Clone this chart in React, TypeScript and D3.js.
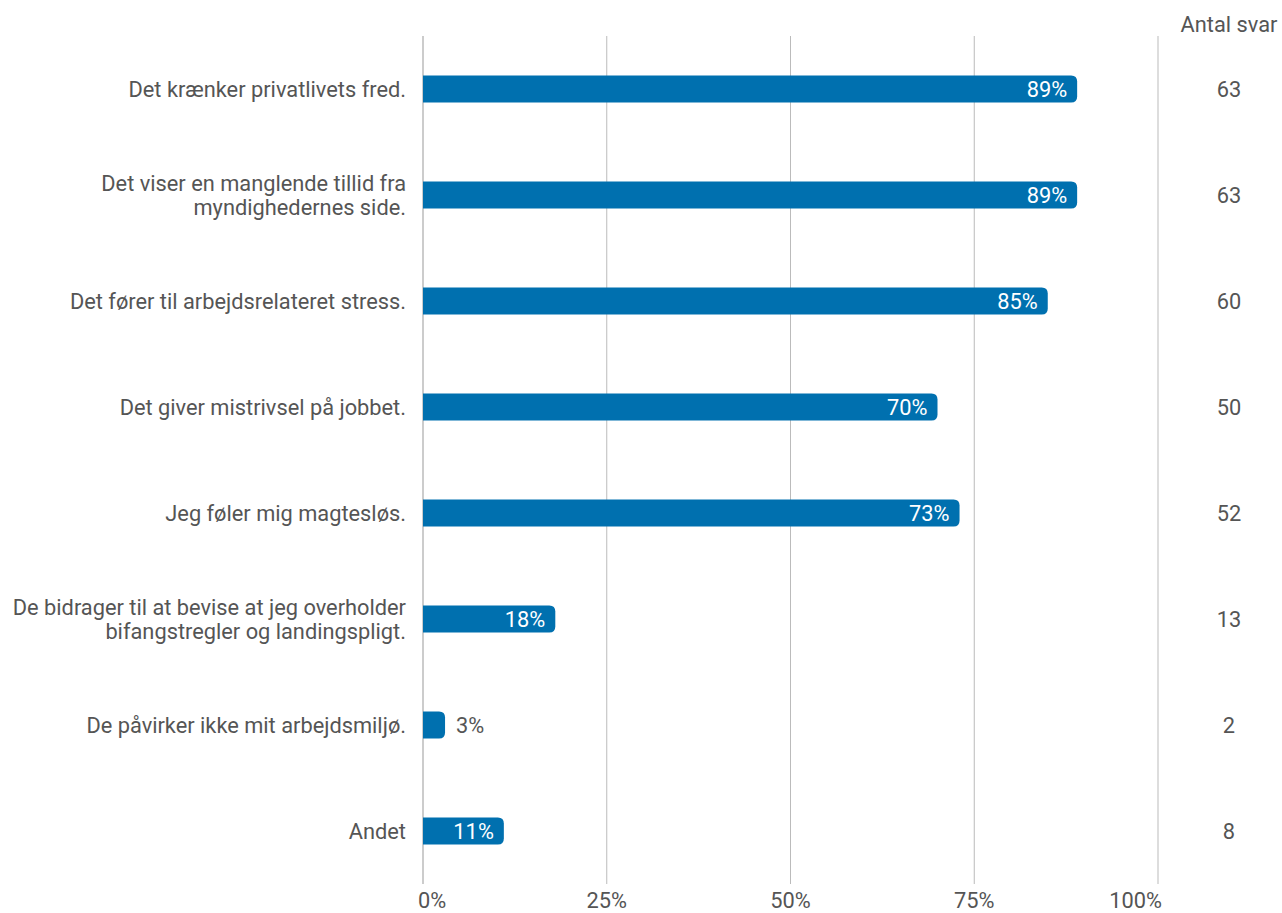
import React from "react";
import * as d3 from "d3";

const categories: string[][] = [
  ["Det krænker privatlivets fred."],
  ["Det viser en manglende tillid fra", "myndighedernes side."],
  ["Det fører til arbejdsrelateret stress."],
  ["Det giver mistrivsel på jobbet."],
  ["Jeg føler mig magtesløs."],
  ["De bidrager til at bevise at jeg overholder", "bifangstregler og landingspligt."],
  ["De påvirker ikke mit arbejdsmiljø."],
  ["Andet"],
];
const percents = [89, 89, 85, 70, 73, 18, 3, 11];
const counts = [63, 63, 60, 50, 52, 13, 2, 8];
const ticks = [0, 25, 50, 75, 100];
const countHeader = "Antal svar";

const W = 1282;
const H = 913;
const x0 = 423;
const x1 = 1158;
const top = 36;
const bottom = 884;
const barH = 27;
const color = "#0070AF";
const textColor = "#555555";
const font = "Roboto, sans-serif";
const fs = 21.8;

function barPath(x: number, y: number, w: number, h: number, r: number) {
  const rr = Math.min(r, w / 2, h / 2);
  return `M${x},${y}H${x + w - rr}Q${x + w},${y} ${x + w},${y + rr}V${y + h - rr}Q${x + w},${y + h} ${x + w - rr},${y + h}H${x}Z`;
}

export default function App() {
  const xs = d3.scaleLinear().domain([0, 100]).range([x0, x1]);
  const ys = d3
    .scaleBand<number>()
    .domain(d3.range(categories.length))
    .range([top, bottom])
    .paddingInner(0)
    .paddingOuter(0);
  const step = ys.step();

  return (
    <svg width={W} height={H} style={{ position: "absolute", left: 0, top: 0, fontFamily: font }}>
      <rect width={W} height={H} fill="#fff" />
      {ticks.map((t) => (
        <line key={t} x1={xs(t)} x2={xs(t)} y1={top} y2={bottom} stroke={t === 0 ? "#999" : "#bbb"} strokeWidth={1} />
      ))}
      {ticks.map((t, i) => (
        <text
          key={"t" + t}
          x={i === 0 ? xs(t) - 5 : i === ticks.length - 1 ? xs(t) + 4 : xs(t)}
          y={908}
          textAnchor={i === 0 ? "start" : i === ticks.length - 1 ? "end" : "middle"}
          fontSize={fs}
          fill={textColor}
        >
          {t}%
        </text>
      ))}
      <text x={1229} y={32} textAnchor="middle" fontSize={fs} fill={textColor}>
        {countHeader}
      </text>
      {categories.map((lines, i) => {
        const cy = (ys(i) as number) + step / 2;
        const w = xs(percents[i]) - x0;
        const inside = w > 50;
        return (
          <g key={i}>
            <path d={barPath(x0, cy - barH / 2, w, barH, 6)} fill={color} />
            <text
              x={inside ? x0 + w - 10 : x0 + w + 11}
              y={cy + 8}
              textAnchor={inside ? "end" : "start"}
              fontSize={fs}
              fill={inside ? "#fff" : textColor}
            >
              {percents[i]}%
            </text>
            {lines.map((l, j) => (
              <text
                key={j}
                x={406}
                y={cy + 8 + (j - (lines.length - 1) / 2) * 24}
                textAnchor="end"
                fontSize={fs}
                fill={textColor}
              >
                {l}
              </text>
            ))}
            <text x={1229} y={cy + 8} textAnchor="middle" fontSize={fs} fill={textColor}>
              {counts[i]}
            </text>
          </g>
        );
      })}
    </svg>
  );
}
